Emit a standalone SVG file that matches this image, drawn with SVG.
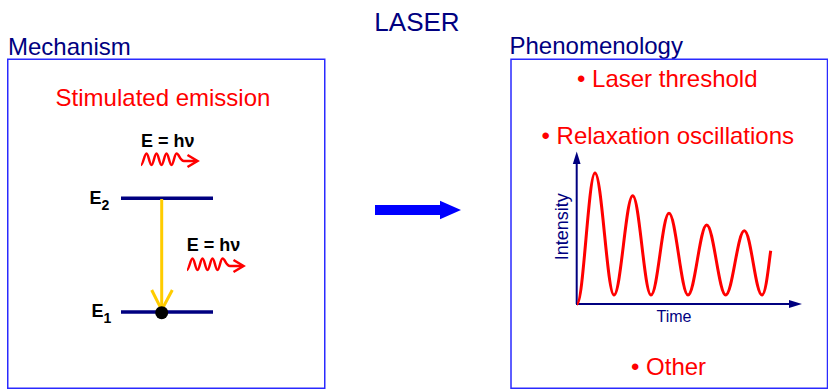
<svg xmlns="http://www.w3.org/2000/svg" width="828" height="391" viewBox="0 0 828 391">
<defs>
<style>
.t{font-family:"Liberation Sans",Arial,sans-serif}
.title{font-size:24px;fill:#000080}
.red{font-size:24px;fill:#ff0000}
.ehv{font-size:18px;font-weight:bold;fill:#000}
.lvl{font-size:18px;font-weight:bold;fill:#000}
.sub{font-size:14px;font-weight:bold;fill:#000}
.ax{font-size:16px;fill:#000080}
.box{fill:#fff;stroke:#2a2aff;stroke-width:1.5}
.level{stroke:#000080;stroke-width:3.5}
.wave{fill:none;stroke:#ff0000;stroke-width:2.5}
.axis{stroke:#000080;stroke-width:2;fill:none}
</style>
<g id="photon">
<path class="wave" d="M141,165 C143,165 144.5,153.5 146.5,153.5 C148.5,153.5 149.5,165 151.5,165 C153.5,165 154.5,153.5 156.5,153.5 C158.5,153.5 159.5,165 161.5,165 C163.5,165 164.5,153.5 166.5,153.5 C168.5,153.5 169.5,165 171.5,165 C173.5,165 174.5,153.5 176.5,153.5 C179,153.5 180,161 184,161 L197,161"/>
<path class="wave" d="M187.5,155 L197.5,161 L187.5,167"/>
</g>
</defs>
<rect width="828" height="391" fill="#fff"/>
<text class="t title" x="417" y="31" text-anchor="middle" style="font-size:26px">LASER</text>

<g id="mechanism">
<text class="t title" x="8" y="55">Mechanism</text>
<rect class="box" x="7.75" y="59.25" width="317" height="329"/>
<text class="t red" x="163" y="106" text-anchor="middle">Stimulated emission</text>
</g>

<g id="level-E2">
<line class="level" x1="121" y1="198.3" x2="213" y2="198.3"/>
<text class="t lvl" x="89.5" y="203.5">E</text><text class="t sub" x="101.5" y="210">2</text>
</g>
<g id="level-E1">
<line class="level" x1="121" y1="312" x2="213" y2="312"/>
<text class="t lvl" x="91.5" y="317">E</text><text class="t sub" x="103.5" y="322.5">1</text>
</g>

<g id="photon-1">
<text class="t ehv" x="141" y="146.7">E = hν</text>
<use href="#photon"/>
</g>
<g id="photon-2">
<text class="t ehv" x="186.7" y="250.7">E = hν</text>
<use href="#photon" transform="translate(46,105)"/>
</g>

<g id="connectors">
<line x1="161.7" y1="199" x2="161.7" y2="309" stroke="#ffcc00" stroke-width="3"/>
<path d="M151.7,290 L161.7,310 L172.3,290" fill="none" stroke="#ffcc00" stroke-width="3"/>
<polygon points="375,205 440,205 440,200.7 461,210 440,219.3 440,215 375,215" fill="#0000ff"/>
</g>
<g id="electron">
<circle cx="161.7" cy="312.7" r="6.5" fill="#000"/>
</g>

<g id="phenomenology">
<text class="t title" x="509.5" y="54">Phenomenology</text>
<rect class="box" x="511" y="59.25" width="316.5" height="329"/>
<text class="t red" x="577" y="87">• Laser threshold</text>
<text class="t red" x="541.5" y="144">• Relaxation oscillations</text>
<text class="t red" x="631" y="375">• Other</text>
</g>

<g id="graph">
<line class="axis" x1="576.7" y1="304" x2="576.7" y2="162"/>
<polygon points="572.8,164 576.7,151.5 580.6,164" fill="#000080"/>
<line class="axis" x1="576" y1="304" x2="790" y2="304"/>
<polygon points="789,300 802,304 789,308" fill="#000080"/>
<text class="t ax" x="674" y="321.5" text-anchor="middle">Time</text>
<text class="t ax" transform="translate(568,226.7) rotate(-90)" text-anchor="middle" style="font-size:18px">Intensity</text>
<path fill="none" stroke="#ff0000" stroke-width="3" d="M577,304 C583.5,304 588.5,173 595,173 C601.8,173 607.2,295 614,295 C620.8,295 626,195.7 632.7,195.7 C639.4,195.7 644.3,295 651,295 C657.7,295 662.3,213.3 669,213.3 C675.8,213.3 681.2,295 688,295 C694.8,295 699.9,225 706.7,225 C713.5,225 718.9,295 725.7,295 C732.5,295 737.5,230.7 744.3,230.7 C751,230.7 755.4,295 762,295 C766,295 769,262 770.7,250.7"/>
</g>
</svg>
